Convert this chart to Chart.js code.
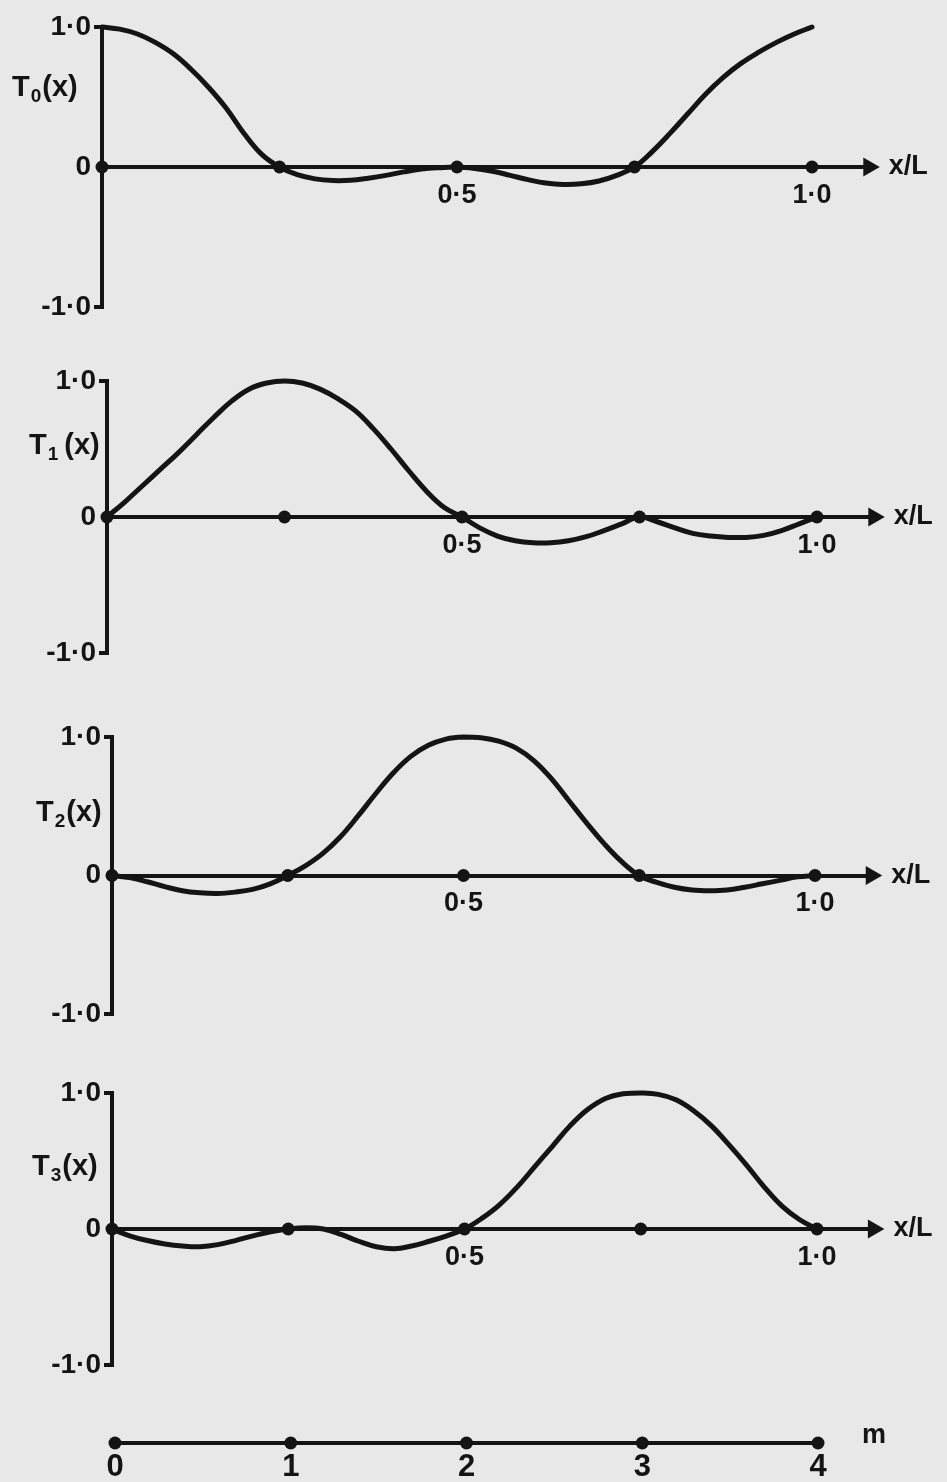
<!DOCTYPE html>
<html>
<head>
<meta charset="utf-8">
<title>Interpolating functions T0(x) - T3(x)</title>
<script src="https://cdn.jsdelivr.net/npm/chart.js@4.4.1/dist/chart.umd.min.js"></script>
<style>
    html, body { margin: 0; padding: 0; background: #e8e8e8; }
    #page { position: relative; width: 947px; height: 1482px; overflow: hidden; }
    canvas { position: absolute; left: 0; }
</style>
</head>
<body>
<div id="page">
    <canvas id="panel0" width="947" height="340" style="top:0px"></canvas>
    <canvas id="panel1" width="947" height="345" style="top:345px"></canvas>
    <canvas id="panel2" width="947" height="350" style="top:700px"></canvas>
    <canvas id="panel3" width="947" height="345" style="top:1055px"></canvas>
    <canvas id="mAxis" width="947" height="82" style="top:1400px"></canvas>
</div>
<script>
const xPos = [0, 0.025, 0.05, 0.075, 0.1, 0.125, 0.15, 0.175, 0.2, 0.225,
              0.25, 0.275, 0.3, 0.325, 0.35, 0.375, 0.4, 0.425, 0.45, 0.475,
              0.5, 0.525, 0.55, 0.575, 0.6, 0.625, 0.65, 0.675, 0.7, 0.725,
              0.75, 0.775, 0.8, 0.825, 0.85, 0.875, 0.9, 0.925, 0.95, 0.975, 1.0];

const t0Values = [1.00, 0.985, 0.95, 0.89, 0.81, 0.70, 0.57, 0.42, 0.24, 0.09,
                  0.00, -0.055, -0.085, -0.097, -0.095, -0.08, -0.06, -0.035, -0.015, -0.005,
                  0.00, -0.01, -0.03, -0.06, -0.09, -0.115, -0.125, -0.12, -0.10, -0.06,
                  0.00, 0.11, 0.24, 0.38, 0.52, 0.64, 0.74, 0.82, 0.89, 0.95, 1.00];

const t1Values = [0.00, 0.11, 0.23, 0.35, 0.47, 0.60, 0.73, 0.85, 0.94, 0.985,
                  1.00, 0.985, 0.94, 0.87, 0.78, 0.65, 0.50, 0.34, 0.19, 0.07,
                  0.00, -0.08, -0.14, -0.175, -0.19, -0.19, -0.175, -0.145, -0.10, -0.05,
                  0.00, -0.035, -0.08, -0.12, -0.14, -0.15, -0.15, -0.135, -0.10, -0.05, 0.00];

const t2Values = [0.00, -0.015, -0.045, -0.08, -0.11, -0.125, -0.13, -0.12, -0.10, -0.06,
                  0.00, 0.07, 0.16, 0.28, 0.43, 0.59, 0.74, 0.86, 0.94, 0.985,
                  1.00, 0.995, 0.97, 0.92, 0.83, 0.70, 0.54, 0.38, 0.23, 0.10,
                  0.00, -0.05, -0.085, -0.105, -0.11, -0.105, -0.085, -0.06, -0.035, -0.01, 0.00];

const t3Values = [0.00, -0.05, -0.085, -0.11, -0.125, -0.13, -0.115, -0.085, -0.05, -0.02,
                  0.00, 0.01, 0.00, -0.04, -0.09, -0.13, -0.145, -0.125, -0.09, -0.05,
                  0.00, 0.08, 0.18, 0.31, 0.46, 0.61, 0.76, 0.88, 0.96, 0.995,
                  1.00, 0.99, 0.95, 0.87, 0.76, 0.62, 0.47, 0.31, 0.17, 0.07, 0.00];

const sampleX = [0, 0.25, 0.5, 0.75, 1.0];
const yTickValues = [-1, 0, 1];
const xTickValues = [0.5, 1.0];
const mValues = [0, 1, 2, 3, 4];
const axisEnd = 1.08;

const INK = '#141414';
const FONT = '"Liberation Sans", Arial, sans-serif';
const PAGE_W = 947;

function formatTick(v) {
    if (v === 0) return '0';
    return (v < 0 ? '-' : '') + Math.abs(v).toFixed(1).replace('.', '·');
}

// labels such as T₀(x) and the x/L at the arrow
const panelText = {
    id: 'panelText',
    afterDraw(chart, args, opts) {
        const ctx = chart.ctx;
        const xs = chart.scales.x;
        const ys = chart.scales.y;
        const zeroY = ys.getPixelForValue(0);
        ctx.save();
        ctx.fillStyle = INK;

        if (opts.axisName) {
            ctx.font = 'bold 27px ' + FONT;
            ctx.textAlign = 'left';
            ctx.textBaseline = 'middle';
            ctx.fillText(opts.axisName, xs.getPixelForValue(opts.axisNameAt) + opts.axisNameDx, zeroY + opts.axisNameDy);
        }

        if (opts.sub !== undefined) {
            const big = 'bold 29px ' + FONT;
            const small = 'bold 19px ' + FONT;
            let cx = opts.labelX;
            const by = opts.labelY;
            ctx.textAlign = 'left';
            ctx.textBaseline = 'alphabetic';
            ctx.font = big;
            ctx.fillText('T', cx, by);
            cx += ctx.measureText('T').width + 1;
            ctx.font = small;
            ctx.fillText(opts.sub, cx, by + 6);
            cx += ctx.measureText(opts.sub).width + 1 + (opts.gap || 0);
            ctx.font = big;
            ctx.fillText('(x)', cx, by);
        }
        ctx.restore();
    }
};

function makePanel(cfg) {
    const canvas = document.getElementById(cfg.id);
    const right = cfg.axisLeft + axisEnd * (cfg.unitRight - cfg.axisLeft);

    const curve = xPos.map((x, i) => ({ x: x, y: cfg.values[i] }));
    const dots = sampleX.map(x => ({ x: x, y: 0 }));

    return new Chart(canvas.getContext('2d'), {
        type: 'scatter',
        data: {
            datasets: [
                {
                    data: curve,
                    showLine: true,
                    borderColor: INK,
                    borderWidth: 5,
                    borderCapStyle: 'round',
                    borderJoinStyle: 'round',
                    tension: 0.4,
                    pointRadius: 0,
                    clip: false
                },
                {
                    data: dots,
                    showLine: false,
                    pointRadius: 6.5,
                    pointBackgroundColor: INK,
                    pointBorderWidth: 0,
                    clip: false
                },
                {
                    data: [{ x: axisEnd, y: 0 }],
                    showLine: false,
                    pointStyle: 'triangle',
                    rotation: 90,
                    pointRadius: 11,
                    pointBackgroundColor: INK,
                    pointBorderWidth: 0,
                    clip: false
                }
            ]
        },
        options: {
            responsive: false,
            animation: false,
            events: [],
            layout: {
                padding: {
                    left: 0,
                    right: PAGE_W - right,
                    top: cfg.plotTop - cfg.top,
                    bottom: cfg.top + cfg.height - cfg.plotBottom
                }
            },
            plugins: {
                legend: { display: false },
                tooltip: { enabled: false },
                panelText: {
                    axisName: 'x/L',
                    axisNameAt: axisEnd,
                    axisNameDx: 20,
                    axisNameDy: 0,
                    sub: cfg.sub,
                    gap: cfg.gap,
                    labelX: cfg.labelX,
                    labelY: cfg.labelY - cfg.top
                }
            },
            scales: {
                x: {
                    type: 'linear',
                    min: 0,
                    max: axisEnd,
                    position: { y: 0 },
                    afterBuildTicks: scale => {
                        scale.ticks = xTickValues.map(v => ({ value: v }));
                    },
                    afterFit: scale => { scale.height = 0; },
                    grid: { display: false, drawTicks: false },
                    border: { display: true, color: INK, width: 4 },
                    ticks: {
                        padding: 12,
                        color: INK,
                        font: { family: FONT, size: 27, weight: 'bold' },
                        callback: v => formatTick(v)
                    }
                },
                y: {
                    type: 'linear',
                    min: -1,
                    max: 1,
                    afterBuildTicks: scale => {
                        scale.ticks = yTickValues.map(v => ({ value: v }));
                    },
                    afterFit: scale => { scale.width = cfg.axisLeft; },
                    grid: {
                        display: true,
                        drawOnChartArea: false,
                        drawTicks: true,
                        tickLength: 8,
                        lineWidth: 4,
                        color: c => (c.tick && c.tick.value === 0 ? 'rgba(0,0,0,0)' : INK)
                    },
                    border: { display: true, color: INK, width: 4 },
                    ticks: {
                        padding: 3,
                        color: INK,
                        font: { family: FONT, size: 28, weight: 'bold' },
                        callback: v => formatTick(v)
                    }
                }
            }
        },
        plugins: [panelText]
    });
}

function makeMAxis() {
    const canvas = document.getElementById('mAxis');
    const top = 1400, height = 82;
    const left = 115, right = 818, lineY = 1443;

    return new Chart(canvas.getContext('2d'), {
        type: 'scatter',
        data: {
            datasets: [{
                data: mValues.map(m => ({ x: m, y: 0 })),
                showLine: false,
                pointRadius: 6.5,
                pointBackgroundColor: INK,
                pointBorderWidth: 0,
                clip: false
            }]
        },
        options: {
            responsive: false,
            animation: false,
            events: [],
            layout: {
                padding: {
                    left: left,
                    right: PAGE_W - right,
                    top: lineY - 20 - top,
                    bottom: top + height - (lineY + 20)
                }
            },
            plugins: {
                legend: { display: false },
                tooltip: { enabled: false },
                panelText: {
                    axisName: 'm',
                    axisNameAt: 4,
                    axisNameDx: 44,
                    axisNameDy: -7
                }
            },
            scales: {
                x: {
                    type: 'linear',
                    min: 0,
                    max: 4,
                    position: { y: 0 },
                    afterBuildTicks: scale => {
                        scale.ticks = mValues.map(v => ({ value: v }));
                    },
                    afterFit: scale => { scale.height = 0; },
                    grid: { display: false, drawTicks: false },
                    border: { display: true, color: INK, width: 4 },
                    ticks: {
                        padding: 6,
                        color: INK,
                        font: { family: FONT, size: 31, weight: 'bold' },
                        callback: v => String(v)
                    }
                },
                y: { display: false, min: -1, max: 1 }
            }
        },
        plugins: [panelText]
    });
}

makePanel({ id: 'panel0', values: t0Values, sub: '0', gap: 0, top: 0, height: 340,
            axisLeft: 102, unitRight: 812, plotTop: 27, plotBottom: 307, labelX: 12, labelY: 96 });
makePanel({ id: 'panel1', values: t1Values, sub: '1', gap: 5, top: 345, height: 345,
            axisLeft: 107, unitRight: 817, plotTop: 381, plotBottom: 653, labelX: 29, labelY: 454 });
makePanel({ id: 'panel2', values: t2Values, sub: '2', gap: 0, top: 700, height: 350,
            axisLeft: 112, unitRight: 815, plotTop: 737, plotBottom: 1014, labelX: 36, labelY: 821 });
makePanel({ id: 'panel3', values: t3Values, sub: '3', gap: 0, top: 1055, height: 345,
            axisLeft: 112, unitRight: 817, plotTop: 1093, plotBottom: 1365, labelX: 32, labelY: 1175 });
makeMAxis();
</script>
</body>
</html>
